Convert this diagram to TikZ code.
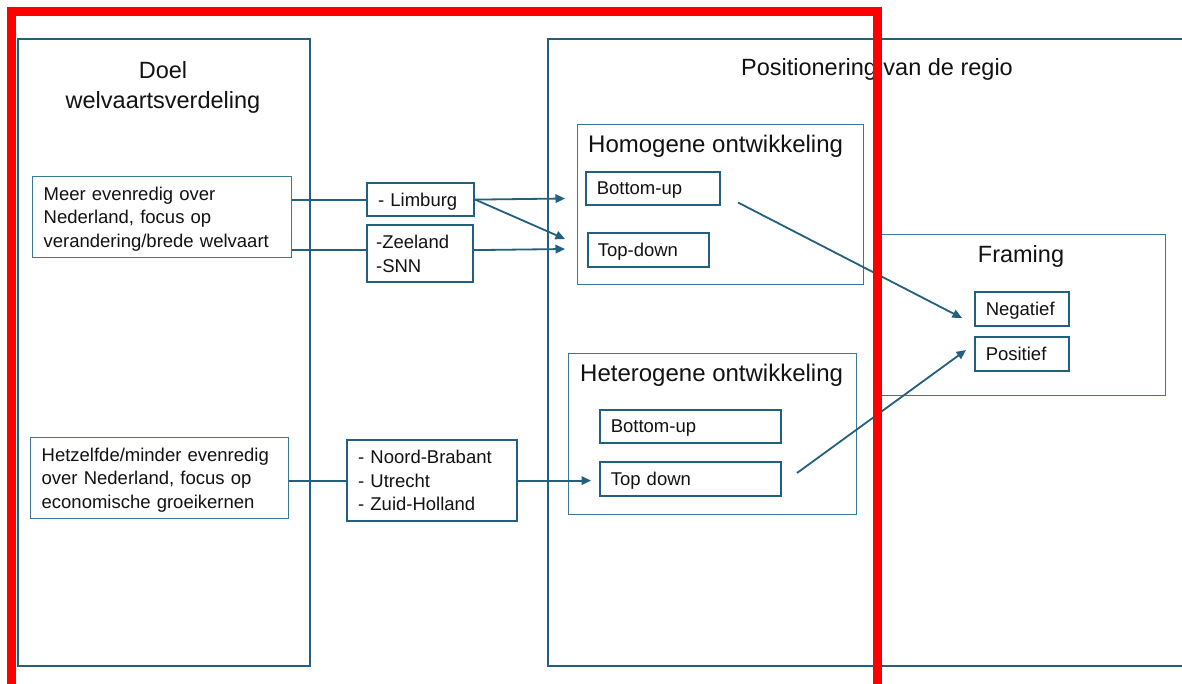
\documentclass[tikz,border=0pt]{standalone}
\usepackage{fontspec}
\setmainfont{Liberation Sans}
\usetikzlibrary{arrows.meta,calc}
\definecolor{bdark}{RGB}{33,96,126}
\definecolor{blight}{RGB}{58,120,150}
\definecolor{txt}{RGB}{18,18,18}
\definecolor{redline}{RGB}{255,0,0}
\tikzset{
  bx/.style={anchor=north west, inner ysep=0pt, align=left, text=txt, text depth=0pt,
             font=\fontsize{18.5}{23.5}\selectfont},
  thinbox/.style={draw=blight, line width=1.3pt},
  midbox/.style={draw=bdark, line width=1.5pt},
  thickbox/.style={draw=bdark, line width=2.2pt},
  bigbox/.style={draw=bdark, line width=1.9pt, anchor=north west, inner sep=0pt},
  ttl/.style={inner sep=0pt, text=txt, font=\fontsize{23.5}{30}\selectfont},
  conn/.style={draw=bdark, line width=1.8pt},
  arr/.style={conn, -{Triangle[length=9.5pt,width=8.5pt]}},
}
\begin{document}
\begin{tikzpicture}[x=1pt,y=-1pt]
\useasboundingbox (0,0) rectangle (1182,683);
\clip (0,0) rectangle (1182,683);
\fill[white] (0,0) rectangle (1182,683);

% outer boxes
\node[bigbox, minimum width=292pt, minimum height=627pt] (doel) at (17,38) {};
\node[bigbox, minimum width=720pt, minimum height=627pt] (pos) at (547,38) {};
\node[bigbox, draw=blight, line width=1.3pt, minimum width=286pt, minimum height=161pt] (fram) at (879,234) {};

% titles
\node[ttl, anchor=base] (doelt1) at (163,78) {Doel};
\node[ttl, anchor=base] (doelt2) at (163,108) {welvaartsverdeling};
\node[ttl, anchor=base] (post) at (877,75) {Positionering van de regio};
\node[ttl, anchor=base] (framt) at (1021,262) {Framing};

% left column
\node[bx, thinbox, text depth=47pt, minimum width=259pt, minimum height=81pt, inner xsep=11pt, text width=237pt] (A) at (32,176)
  {Meer evenredig over\\Nederland, focus op\\verandering/brede welvaart};
\node[bx, thinbox, text depth=47pt, minimum width=258pt, minimum height=81pt, inner xsep=11pt, text width=236pt] (B) at (30,437)
  {Hetzelfde/minder evenredig\\over Nederland, focus op\\economische groeikernen};

% provinces
\node[bx, thickbox, minimum width=107pt, minimum height=33pt, inner xsep=11pt, text width=85pt] (lim) at (366,182) {- Limburg};
\node[bx, thickbox, text depth=23.5pt, minimum width=106pt, minimum height=57pt, inner xsep=9pt, text width=88pt] (zee) at (366,224) {-Zeeland\\-SNN};
\node[bx, thickbox, text depth=47pt, minimum width=170pt, minimum height=81pt, inner xsep=11pt, text width=148pt] (nb) at (346,439)
  {- Noord-Brabant\\- Utrecht\\- Zuid-Holland};

% homogene
\node[bx, thinbox, minimum width=286pt, minimum height=160pt, inner sep=0pt] (hom) at (577,124) {};
\node[ttl, anchor=base west, font=\fontsize{24}{30}\selectfont] (homt) at (588,152) {Homogene ontwikkeling};
\node[bx, midbox, minimum width=134pt, minimum height=33pt, inner xsep=11pt, text width=112pt] (buh) at (585,171) {Bottom-up};
\node[bx, midbox, minimum width=121pt, minimum height=34pt, inner xsep=10pt, text width=101pt] (tdh) at (587,232) {Top-down};

% heterogene
\node[bx, thinbox, minimum width=288pt, minimum height=161pt, inner sep=0pt] (het) at (568,353) {};
\node[ttl, anchor=base west, font=\fontsize{24}{30}\selectfont] (hett) at (580,381) {Heterogene ontwikkeling};
\node[bx, midbox, minimum width=181pt, minimum height=33pt, inner xsep=11pt, text width=159pt] (bue) at (599,409) {Bottom-up};
\node[bx, midbox, minimum width=181pt, minimum height=34pt, inner xsep=11pt, text width=159pt] (tde) at (599,461) {Top down};

% framing items
\node[bx, midbox, minimum width=94pt, minimum height=34pt, inner xsep=11pt, text width=72pt] (neg) at (974,291) {Negatief};
\node[bx, midbox, minimum width=94pt, minimum height=34pt, inner xsep=11pt, text width=72pt] (posi) at (974,336) {Positief};

% connector helper points
\coordinate (zin) at ([yshift=3.5pt]zee.west);
\coordinate (zout) at ([yshift=3.5pt]zee.east);
\coordinate (h1) at (565,198.5);
\coordinate (h2) at (565,239);
\coordinate (h3) at (565,249);
\coordinate (s1) at (738,202.5);
\coordinate (e1) at (962,318);
\coordinate (s2) at (797,473);
\coordinate (e2) at (966,350);

% connectors
\draw[conn] (A.east |- lim.west) -- (lim.west);
\draw[conn] (A.east |- zin) -- (zin);
\draw[conn] (B.east |- nb.west) -- (nb.west);
\draw[arr] (lim.east) -- (h1);
\draw[arr] (lim.east) -- (h2);
\draw[arr] (zout) -- (h3);
\draw[arr] (nb.east) -- ([xshift=-8pt]tde.west |- nb.east);
\draw[arr] (s1) -- (e1);
\draw[arr] (s2) -- (e2);

% red frame
\draw[redline, line width=9pt] (11,700) -- (11,11) -- (877.5,11) -- (877.5,700);
\end{tikzpicture}
\end{document}
